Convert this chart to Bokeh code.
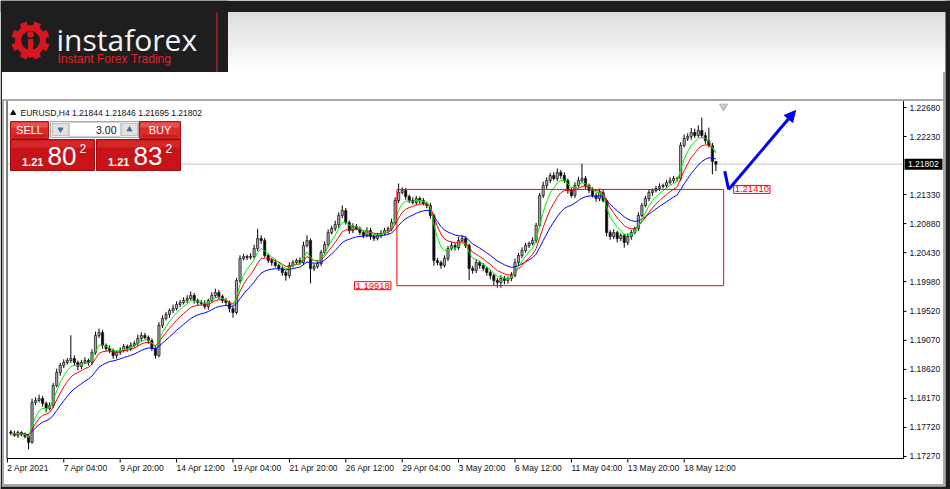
import numpy as np
from bokeh.plotting import figure
from bokeh.models import Range1d, Label, Arrow, NormalHead, ColumnDataSource
from bokeh.embed import file_html
from bokeh.resources import INLINE
from bokeh.core.properties import value

# ---------------- data ----------------
symbol = "EURUSD,H4"
last_bar = [1.21844, 1.21846, 1.21695, 1.21802]  # open, high, low, close
lot_size = "3.00"
sell_quote = ["1.21", "80", "2"]
buy_quote = ["1.21", "83", "2"]

first_open = 1.17650
closes = [
    1.17627, 1.17596, 1.17642, 1.17611, 1.17580, 1.17488, 1.18107, 1.18138, 1.18169, 1.18092,
    1.18014, 1.18061, 1.18371, 1.18572, 1.18681, 1.18727, 1.18758, 1.18789, 1.18727, 1.18665,
    1.18727, 1.18758, 1.18727, 1.18882, 1.19146, 1.19192, 1.18991, 1.18944, 1.18913, 1.18836,
    1.18882, 1.18913, 1.18975, 1.18944, 1.18991, 1.19022, 1.19099, 1.19146, 1.19115, 1.19068,
    1.18944, 1.18836, 1.19301, 1.19409, 1.19471, 1.19533, 1.19564, 1.19626, 1.19657, 1.19688,
    1.19719, 1.19766, 1.19688, 1.19657, 1.19642, 1.19595, 1.19688, 1.19766, 1.19812, 1.19750,
    1.19688, 1.19657, 1.19564, 1.19502, 1.19998, 1.20339, 1.20370, 1.20355, 1.20370, 1.20494,
    1.20649, 1.20618, 1.20386, 1.20308, 1.20277, 1.20231, 1.20184, 1.20122, 1.20076, 1.20231,
    1.20277, 1.20308, 1.20277, 1.20541, 1.20618, 1.20184, 1.20215, 1.20262, 1.20432, 1.20556,
    1.20742, 1.20804, 1.20866, 1.21006, 1.21083, 1.20897, 1.20773, 1.20835, 1.20804, 1.20742,
    1.20696, 1.20773, 1.20680, 1.20649, 1.20696, 1.20727, 1.20773, 1.20804, 1.20897, 1.21238,
    1.21362, 1.21393, 1.21300, 1.21238, 1.21207, 1.21269, 1.21238, 1.21192, 1.21161, 1.21006,
    1.20308, 1.20277, 1.20231, 1.20339, 1.20494, 1.20541, 1.20510, 1.20618, 1.20649, 1.20541,
    1.20184, 1.20153, 1.20277, 1.20231, 1.20184, 1.20122, 1.20076, 1.19998, 1.19967, 1.20029,
    1.19998, 1.20029, 1.20076, 1.20277, 1.20386, 1.20463, 1.20541, 1.20572, 1.20618, 1.20851,
    1.21316, 1.21471, 1.21548, 1.21626, 1.21579, 1.21672, 1.21626, 1.21548, 1.21393, 1.21316,
    1.21471, 1.21548, 1.21579, 1.21471, 1.21393, 1.21316, 1.21269, 1.21362, 1.21238, 1.20742,
    1.20680, 1.20742, 1.20649, 1.20696, 1.20587, 1.20680, 1.20742, 1.20804, 1.21006, 1.21161,
    1.21269, 1.21362, 1.21393, 1.21424, 1.21455, 1.21471, 1.21517, 1.21548, 1.21579, 1.21579,
    1.22091, 1.22200, 1.22231, 1.22293, 1.22246, 1.22323, 1.22246, 1.22168, 1.22091, 1.21844,
    1.21802]
upper_wick_pips = [
    3, 4, 3, 2, 3, 4, 6, 5, 6, 4,
    3, 5, 4, 6, 4, 5, 4, 36, 5, 3,
    4, 5, 3, 5, 6, 6, 4, 3, 5, 3,
    3, 5, 4, 3, 5, 4, 6, 5, 4, 3,
    3, 4, 5, 5, 4, 3, 6, 5, 4, 5,
    5, 6, 4, 3, 4, 5, 3, 5, 6, 4,
    3, 4, 3, 2, 4, 5, 4, 3, 5, 6,
    15, 5, 4, 3, 4, 5, 3, 4, 3, 5,
    4, 3, 5, 6, 8, 3, 4, 5, 4, 5,
    5, 4, 6, 5, 8, 4, 3, 5, 4, 3,
    3, 5, 4, 3, 4, 5, 4, 3, 6, 5,
    14, 5, 4, 3, 5, 4, 3, 4, 3, 4,
    3, 4, 3, 5, 4, 5, 4, 6, 5, 3,
    3, 4, 5, 3, 4, 3, 4, 3, 4, 5,
    4, 3, 5, 6, 4, 5, 4, 3, 5, 4,
    4, 6, 5, 4, 5, 6, 4, 5, 3, 4,
    5, 6, 23, 4, 3, 5, 4, 6, 5, 3,
    4, 5, 3, 4, 3, 5, 4, 3, 5, 4,
    4, 5, 3, 4, 5, 3, 4, 5, 4, 3,
    5, 6, 5, 7, 6, 8, 20, 5, 20, 4,
    0]
lower_wick_pips = [
    3, 2, 4, 3, 3, 11, 2, 4, 3, 5,
    6, 3, 4, 3, 5, 4, 3, 4, 5, 6,
    4, 3, 5, 4, 3, 4, 5, 4, 4, 5,
    5, 4, 3, 5, 4, 3, 4, 5, 3, 5,
    4, 5, 3, 4, 3, 5, 4, 3, 4, 3,
    4, 3, 5, 4, 3, 4, 5, 3, 4, 5,
    4, 5, 6, 8, 3, 4, 3, 4, 3, 4,
    4, 5, 3, 4, 5, 3, 4, 5, 8, 4,
    3, 4, 3, 4, 3, 23, 4, 3, 4, 3,
    4, 3, 4, 5, 4, 3, 5, 4, 3, 4,
    4, 3, 5, 4, 3, 4, 3, 5, 4, 3,
    4, 3, 5, 4, 3, 4, 5, 3, 4, 5,
    8, 4, 5, 3, 4, 3, 5, 4, 3, 4,
    18, 5, 4, 5, 4, 5, 6, 8, 8, 8,
    6, 5, 4, 3, 5, 4, 3, 4, 3, 4,
    3, 4, 5, 4, 3, 4, 5, 4, 5, 3,
    4, 3, 4, 5, 4, 3, 5, 4, 3, 6,
    5, 4, 6, 4, 8, 4, 5, 3, 4, 3,
    3, 4, 5, 3, 4, 3, 4, 3, 4, 5,
    4, 3, 4, 5, 4, 3, 4, 5, 3, 20,
    11]

time_tick_bars = [-1, 15, 31, 47, 63, 79, 95, 111, 127, 143, 159, 175, 191]
time_tick_labels = ["2 Apr 2021", "7 Apr 04:00", "9 Apr 20:00", "14 Apr 12:00",
                    "19 Apr 04:00", "21 Apr 20:00", "26 Apr 12:00", "29 Apr 04:00",
                    "3 May 20:00", "6 May 12:00", "11 May 04:00", "13 May 20:00",
                    "18 May 12:00"]
price_ticks = [1.22680, 1.22230, 1.21330, 1.20880, 1.20430, 1.19980, 1.19520,
               1.19070, 1.18620, 1.18170, 1.17720, 1.17270]

box_start_bar, box_end_bar = 109.5, 202.2
box_high, box_low = 1.21410, 1.19918

forecast_bars = [202.5, 203.6, 222.6]
forecast_prices = [1.21693, 1.21410, 1.22633]

fast_n, mid_n, slow_n = 5, 9, 17

# ---------------- derived ----------------
n = len(closes)
opens = [first_open] + closes[:-1]
opens[-1], closes[-1] = last_bar[0], last_bar[3]
highs = [max(o, c) + u * 1e-4 for o, c, u in zip(opens, closes, upper_wick_pips)]
lows = [min(o, c) - d * 1e-4 for o, c, d in zip(opens, closes, lower_wick_pips)]
highs[-1], lows[-1] = last_bar[1], last_bar[2]


def ema(vals, period):
    a = 2.0 / (period + 1)
    out = [vals[0]]
    for v in vals[1:]:
        out.append(out[-1] + a * (v - out[-1]))
    return out


bars = list(range(n))
src = ColumnDataSource(dict(
    x=bars, o=opens, c=closes, h=highs, l=lows,
    top=[max(o, c) for o, c in zip(opens, closes)],
    bottom=[min(o, c) for o, c in zip(opens, closes)],
    body_color=["#aaaaaa" if c >= o else "#000000" for o, c in zip(opens, closes)],
))

# ---------------- figure (frame = whole canvas) ----------------
W, H = 950, 489
p = figure(width=W, height=H, x_range=Range1d(-2.95, 266.55),
           y_range=Range1d(1.16758, 1.24339), x_axis_type=None, y_axis_type=None,
           output_backend="svg", toolbar_location=None, title=None, min_border=0)
p.outline_line_color = None
p.background_fill_color = "white"
p.border_fill_color = "white"
p.extra_x_ranges = {"px": Range1d(0, W)}
p.extra_y_ranges = {"py": Range1d(H, 0)}
S = dict(x_range_name="px", y_range_name="py")
DARK = "#1e1e1e"

# ---- header (logo band) ----
p.quad(left=0, right=W, top=0, bottom=11.5, fill_color=DARK, line_color=None, **S)
for k in range(15):
    g = int(222 + k * 33 / 14)
    p.quad(left=227.5, right=W, top=11.5 + 4 * k, bottom=15.5 + 4 * k,
           fill_color="#%02x%02x%02x" % (g, g, g), line_color=None, **S)
p.quad(left=0, right=227.5, top=0, bottom=71.5, fill_color=DARK, line_color=None, **S)
p.segment(x0=216.5, y0=12, x1=216.5, y1=71.5, line_color="#d81e26", line_width=1.2, **S)

cx, cy = 30, 40
ang = np.deg2rad(np.arange(8) * 45 + 22.5)
p.rect(x=cx + 15.5 * np.cos(ang), y=cy + 15.5 * np.sin(ang), width=7, height=7,
       angle=-ang, fill_color="#d9161f", line_color=None, **S)
p.circle(x=[cx], y=[cy], radius=15.5, fill_color="#d9161f", line_color=None, **S)
p.circle(x=[cx], y=[cy], radius=9.5, fill_color=DARK, line_color=None, **S)
p.circle(x=[cx], y=[cy - 6], radius=3.3, fill_color="#d9161f", line_color=None, **S)
p.quad(left=cx - 2.6, right=cx + 2.6, top=cy - 1.5, bottom=cy + 17,
       fill_color="#d9161f", line_color=None, **S)
p.text(x=[56], y=[39], text=["instaforex"], text_font=value("Open Sans"),
       text_font_size="30px", text_color="#f2f2f2", text_baseline="middle", **S)
p.text(x=[57], y=[58], text=["Instant Forex Trading"], text_font=value("Liberation Sans"),
       text_font_size="12px", text_color="#e0222a", text_baseline="middle", **S)

# window frame
p.segment(x0=2, y0=99.5, x1=944, y1=99.5, line_color="#a8a8a8", line_width=2, **S)
p.segment(x0=2.5, y0=99.5, x1=2.5, y1=485, line_color="#a8a8a8", line_width=2, **S)
p.segment(x0=943.5, y0=71.5, x1=943.5, y1=485, line_color="#a8a8a8", line_width=2, **S)
p.segment(x0=2, y0=484.5, x1=944, y1=484.5, line_color="#a8a8a8", line_width=2, **S)
p.quad(left=945, right=W, top=0, bottom=H, fill_color=DARK, line_color=None, **S)
p.quad(left=0, right=1.5, top=71.5, bottom=H, fill_color=DARK, line_color=None, **S)
p.quad(left=0, right=W, top=486, bottom=H, fill_color=DARK, line_color=None, **S)

# ---- chart ----
p.segment(x0=7, y0=last_bar[3], x1=903, y1=last_bar[3], line_color="#c8c8c8",
          line_width=1, x_range_name="px")

p.segment(x0="x", y0="l", x1="x", y1="h", source=src, line_color="black", line_width=1)
p.vbar(x="x", width=0.62, top="top", bottom="bottom", fill_color="body_color",
       line_color="#202020", line_width=0.8, source=src)

p.line(bars, ema(closes, slow_n), line_color="#0000ff", line_width=1)
p.line(bars, ema(closes, mid_n), line_color="#ff0000", line_width=1)
p.line(bars, ema(closes, fast_n), line_color="#00ee00", line_width=1)

p.quad(left=[box_start_bar], right=[box_end_bar], top=[box_high], bottom=[box_low],
       fill_color=None, line_color="#ff0000", line_width=1)
p.add_layout(Label(x=box_start_bar, y=box_low, text=f"{box_low:.5f}", text_align="right",
                   text_baseline="middle", x_offset=-6, text_font="Liberation Sans",
                   text_font_size="9.5px", text_color="#ff0000", background_fill_color="white",
                   border_line_color="#ff0000", padding=1))
p.add_layout(Label(x=box_end_bar, y=box_high, text=f"{box_high:.5f}", text_align="left",
                   text_baseline="middle", x_offset=10, text_font="Liberation Sans",
                   text_font_size="9.5px", text_color="#ff0000", background_fill_color="white",
                   border_line_color="#ff0000", padding=1))

p.line(forecast_bars[:2], forecast_prices[:2], line_color="#0000ff", line_width=3)
p.add_layout(Arrow(end=NormalHead(size=11, fill_color="#0000ff", line_color="#0000ff"),
                   x_start=forecast_bars[1], y_start=forecast_prices[1],
                   x_end=forecast_bars[2], y_end=forecast_prices[2],
                   line_color="#0000ff", line_width=3))

p.scatter(x=[723], y=[106], marker="inverted_triangle", size=8, fill_color="#c8c8c8",
          line_color="#b0b0b0", **S)

# chart border
p.segment(x0=[6.5, 903, 6.5], y0=[100.5, 100.5, 458], x1=[6.5, 903, 903], y1=[458, 458, 458],
          line_color="black", line_width=1, **S)

# ---- price scale ----
p.segment(x0=903, y0=price_ticks, x1=906, y1=price_ticks, line_color="black",
          line_width=1, x_range_name="px")
p.text(x=[909] * len(price_ticks), y=price_ticks, text=[f"{t:.5f}" for t in price_ticks],
       text_font=value("Liberation Sans"), text_font_size="8.5px", text_color="#101030",
       text_baseline="middle", x_range_name="px")
p.rect(x=[923], y=[last_bar[3]], width=38, height=11, height_units="screen",
       fill_color="black", line_color=None, x_range_name="px")
p.text(x=[907.5], y=[last_bar[3]], text=[f"{last_bar[3]:.5f}"],
       text_font=value("Liberation Sans"), text_font_size="8.5px", text_color="white",
       text_baseline="middle", x_range_name="px")

# ---- time scale ----
p.segment(x0=time_tick_bars, y0=458, x1=time_tick_bars, y1=462, line_color="black",
          line_width=1, y_range_name="py")
p.text(x=time_tick_bars, y=[467] * len(time_tick_bars), text=time_tick_labels,
       text_font=value("Liberation Sans"), text_font_size="8.5px", text_color="#111111",
       text_baseline="middle", text_align="left", y_range_name="py")

# ---- trade panel ----
p.scatter(x=[12.7], y=[112.5], marker="triangle", size=5, fill_color="black",
          line_color="black", **S)
p.text(x=[20], y=[112.8], text=[f"{symbol}  " + " ".join(f"{v:.5f}" for v in last_bar)],
       text_font=value("Liberation Sans"), text_font_size="8.5px", text_color="#111111",
       text_baseline="middle", **S)

red_btn, red_btn_top = "#dc2a2a", "#e85050"
red_box, red_box_top = "#c81418", "#d42828"
for l, r, lab in [(10, 48, "SELL"), (139, 180, "BUY")]:
    p.quad(left=l, right=r, top=121, bottom=138, fill_color=red_btn, line_color="#b01515", **S)
    p.quad(left=l + 1, right=r - 1, top=122, bottom=127, fill_color=red_btn_top, line_color=None, **S)
    p.segment(x0=l + 3, y0=135.5, x1=r - 3, y1=135.5, line_color="#a81010", line_width=1, **S)
    p.text(x=[(l + r) / 2], y=[129.5], text=[lab], text_font=value("Liberation Sans"),
           text_font_size="11px", text_color="white", text_align="center",
           text_baseline="middle", **S)
p.quad(left=50, right=138, top=121, bottom=137, fill_color="#ededed", line_color="#a8a8a8", **S)
p.quad(left=52, right=68, top=123, bottom=135, fill_color="#e2e2e2", line_color="#c0c0c0", **S)
p.quad(left=121, right=137, top=123, bottom=135, fill_color="#e2e2e2", line_color="#c0c0c0", **S)
p.quad(left=69, right=120, top=122, bottom=136, fill_color="white", line_color="#d0d0d0", **S)
p.scatter(x=[60], y=[129], marker="inverted_triangle", size=5, fill_color="#50709a",
          line_color="#50709a", **S)
p.scatter(x=[129], y=[129], marker="triangle", size=5, fill_color="#50709a",
          line_color="#50709a", **S)
p.text(x=[116], y=[129.5], text=[lot_size], text_font=value("Liberation Sans"),
       text_font_size="10.5px", text_color="#111111", text_align="right",
       text_baseline="middle", **S)
for l, r, q in [(10, 94, sell_quote), (96, 180, buy_quote)]:
    p.quad(left=l, right=r, top=139, bottom=170, fill_color=red_box, line_color="#a00c10", **S)
    p.quad(left=l + 1, right=r - 1, top=140, bottom=147, fill_color=red_box_top, line_color=None, **S)
    p.text(x=[l + 11.5], y=[161.5], text=[q[0]], text_font=value("Liberation Sans"),
           text_font_style="bold", text_font_size="11px", text_color="white",
           text_baseline="middle", **S)
    p.text(x=[l + 37], y=[155], text=[q[1]], text_font=value("Liberation Sans"),
           text_font_size="26px", text_color="white", text_baseline="middle", **S)
    p.text(x=[l + 69], y=[148], text=[q[2]], text_font=value("Liberation Sans"),
           text_font_size="12px", text_color="white", text_baseline="middle", **S)

open("out.html", "w").write(file_html(p, INLINE))
